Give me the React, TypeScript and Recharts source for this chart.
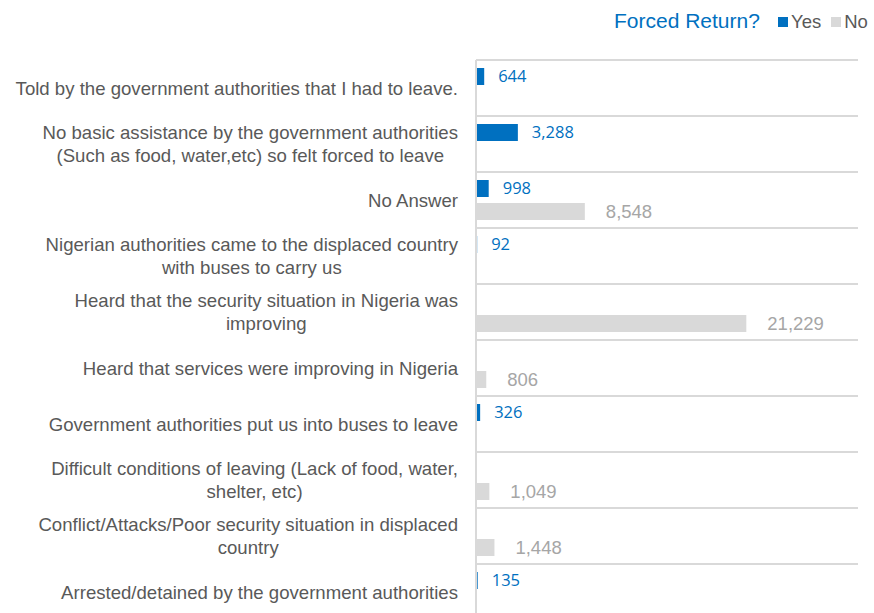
import React from 'react';
import { BarChart, Bar, XAxis, YAxis, CartesianGrid, LabelList } from 'recharts';

const categories = [
  'Told by the government authorities that I had to leave.',
  'No basic assistance by the government authorities\n(Such as food, water,etc) so felt forced to leave',
  'No Answer',
  'Nigerian authorities came to the displaced country\nwith buses to carry us',
  'Heard that the security situation in Nigeria was\nimproving',
  'Heard that services were improving in Nigeria',
  'Government authorities put us into buses to leave',
  'Difficult conditions of leaving (Lack of food, water,\nshelter, etc)',
  'Conflict/Attacks/Poor security situation in displaced\ncountry',
  'Arrested/detained by the government authorities',
];

const yesValues = [644, 3288, 998, 92, null, null, 326, null, null, 135];
const noValues = [null, null, 8548, null, 21229, 806, null, 1049, 1448, null];

const chartData = categories.map((name, i) => ({
  name,
  yes: yesValues[i],
  no: noValues[i],
}));

const BLUE = '#0070C0';
const GRAY = '#D9D9D9';
const LABEL_FONT = 'Liberation Sans, Arial, sans-serif';
const CAT_SIZE = 18.6;

let measureCtx: CanvasRenderingContext2D | null = null;
function textWidth(s: string) {
  if (!measureCtx) measureCtx = document.createElement('canvas').getContext('2d');
  if (!measureCtx) return s.length * 9;
  measureCtx.font = `${CAT_SIZE}px ${LABEL_FONT}`;
  return measureCtx.measureText(s).width;
}

function CategoryTick(props: any) {
  const { x, y, payload } = props;
  const lines: string[] = String(payload.value).split('\n');
  const widest = Math.max(...lines.map(textWidth));
  const right = x - 10;
  const cx = right - widest / 2;
  const lineH = 23;
  const startY = y - ((lines.length - 1) * lineH) / 2;
  return (
    <g>
      {lines.map((l, i) => (
        <text
          key={i}
          x={lines.length > 1 ? cx : right}
          y={startY + i * lineH}
          dy="0.35em"
          textAnchor={lines.length > 1 ? 'middle' : 'end'}
          fontSize={CAT_SIZE}
          fontFamily={LABEL_FONT}
          fill="#595959"
        >
          {l}
        </text>
      ))}
    </g>
  );
}

const fmt = (v: any) => (v == null ? '' : Number(v).toLocaleString('en-US'));

export default function App() {
  return (
    <div style={{ position: 'absolute', left: 0, top: 0, width: 874, height: 613, background: '#fff' }}>
      <div
        style={{
          position: 'absolute',
          left: 614,
          top: 9,
          fontFamily: LABEL_FONT,
          fontSize: 21,
          color: BLUE,
          whiteSpace: 'nowrap',
        }}
      >
        Forced Return?
      </div>
      <div
        style={{
          position: 'absolute',
          left: 778,
          top: 11,
          fontFamily: LABEL_FONT,
          fontSize: 18.5,
          color: '#595959',
          whiteSpace: 'nowrap',
          display: 'flex',
          alignItems: 'center',
        }}
      >
        <span style={{ display: 'inline-block', width: 10, height: 10, background: BLUE, marginRight: 3 }} />
        <span>Yes</span>
        <span style={{ display: 'inline-block', width: 10, height: 10, background: GRAY, marginLeft: 10, marginRight: 3 }} />
        <span>No</span>
      </div>
      <div style={{ position: 'absolute', left: 0, top: 0 }}>
        <BarChart
          width={874}
          height={630}
          data={chartData}
          layout="vertical"
          margin={{ top: 60, right: 16, bottom: 10, left: 0 }}
          barCategoryGap={8}
          barGap={6}
        >
          <CartesianGrid
            vertical={false}
            stroke={GRAY}
            strokeWidth={2}
            horizontalCoordinatesGenerator={({ offset }: any) =>
              categories.map((_, i) => offset.top + (i * offset.height) / categories.length)
            }
          />
          <XAxis type="number" domain={[0, 30000]} hide />
          <YAxis
            type="category"
            dataKey="name"
            width={476}
            axisLine={{ stroke: GRAY, strokeWidth: 2 }}
            tickLine={false}
            tick={<CategoryTick />}
            interval={0}
          />
          <Bar dataKey="yes" fill={BLUE} isAnimationActive={false}>
            <LabelList
              dataKey="yes"
              position="right"
              offset={14}
              formatter={fmt}
              fill={BLUE}
              fontSize={16.5}
              fontFamily="Open Sans, sans-serif"
            />
          </Bar>
          <Bar dataKey="no" fill={GRAY} isAnimationActive={false}>
            <LabelList
              dataKey="no"
              position="right"
              offset={21}
              formatter={fmt}
              fill="#A6A6A6"
              fontSize={18.5}
              fontFamily={LABEL_FONT}
            />
          </Bar>
        </BarChart>
      </div>
    </div>
  );
}
